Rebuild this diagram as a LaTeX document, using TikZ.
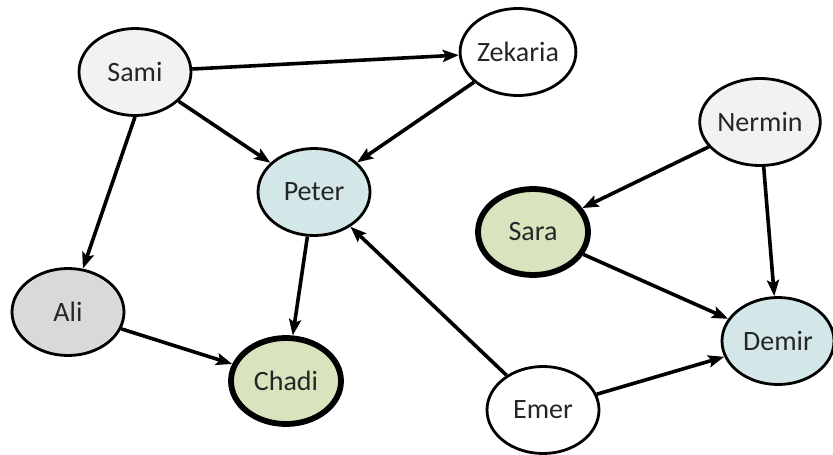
\documentclass[tikz,border=0pt]{standalone}
\usepackage{fontspec}
\setmainfont{Carlito}
\usetikzlibrary{shapes.geometric,arrows.meta}
\definecolor{lgray}{HTML}{F2F2F2}
\definecolor{mgray}{HTML}{D9D9D9}
\definecolor{lblue}{HTML}{D3E7E8}
\definecolor{lgreen}{HTML}{D7E4BD}
\definecolor{txt}{HTML}{262626}
\tikzset{
  person/.style={ellipse, draw=black, line width=2.8pt, minimum width=112pt, minimum height=87pt,
    inner sep=0pt, font=\fontsize{28}{32}\selectfont, text=txt},
  key/.style={person, line width=5.8pt, minimum width=110pt, minimum height=86pt},
  link/.style={line width=3.6pt, -{Stealth[length=16pt,width=12pt,inset=3pt]}}
}
\begin{document}
\begin{tikzpicture}[x=1pt,y=-1pt]
\useasboundingbox (0,0) rectangle (833,455);
\node[person, fill=lgray] (sami) at (135,72) {Sami};
\node[person, fill=white] (zek) at (518,52) {Zekaria};
\node[person, fill=lblue] (peter) at (314,192) {Peter};
\node[person, fill=lgray] (nermin) at (760,122) {Nermin};
\node[key, fill=lgreen] (sara) at (533,232) {Sara};
\node[person, fill=mgray] (ali) at (68,312) {Ali};
\node[key, fill=lgreen] (chadi) at (286,381) {Chadi};
\node[person, fill=lblue] (demir) at (778,341) {Demir};
\node[person, fill=white] (emer) at (543,410) {Emer};

\draw[link] (sami) -- (zek);
\draw[link] (sami) -- (peter);
\draw[link] (zek) -- (peter);
\draw[link] (sami.south) -- (ali);
\draw[link] (peter) -- (chadi);
\draw[link] (ali) -- (chadi);
\draw[link] (emer) -- (peter);
\draw[link] (emer) -- (demir);
\draw[link] (nermin) -- (sara);
\draw[link] (nermin) -- (demir);
\draw[link] (sara) -- (demir);
\end{tikzpicture}
\end{document}
